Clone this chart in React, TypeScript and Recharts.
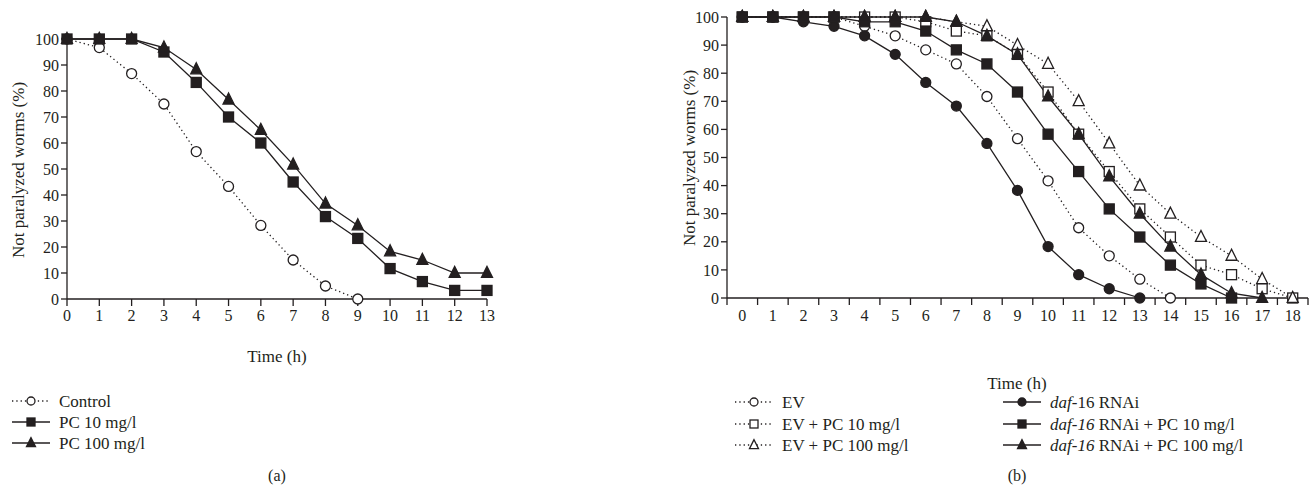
import React from 'react';
import { LineChart, Line, XAxis, YAxis } from 'recharts';

const INK = '#231f20';
const FONT = '"Liberation Serif", "DejaVu Serif", serif';

// (a) wild type
const timeA = [0, 1, 2, 3, 4, 5, 6, 7, 8, 9, 10, 11, 12, 13];
const control = [100, 96.7, 86.7, 75, 56.7, 43.3, 28.3, 15, 5, 0, null, null, null, null];
const pc10 = [100, 100, 100, 95, 83.3, 70, 60, 45, 31.7, 23.3, 11.7, 6.7, 3.3, 3.3];
const pc100 = [100, 100, 100, 96.7, 88.3, 76.7, 65, 51.7, 36.7, 28.3, 18.3, 15, 10, 10];

// (b) daf-16 RNAi
const timeB = [0, 1, 2, 3, 4, 5, 6, 7, 8, 9, 10, 11, 12, 13, 14, 15, 16, 17, 18];
const ev = [100, 100, 100, 100, 96.7, 93.3, 88.3, 83.3, 71.7, 56.7, 41.7, 25, 15, 6.7, 0, null, null, null, null];
const evPc10 = [100, 100, 100, 100, 100, 100, 98.3, 95, 93.3, 86.7, 73.3, 58.3, 45, 31.7, 21.7, 11.7, 8.3, 3.3, 0];
const evPc100 = [100, 100, 100, 100, 100, 100, 100, 98.3, 96.7, 90, 83.3, 70, 55, 40, 30, 21.7, 15, 6.7, 0];
const daf = [100, 100, 98.3, 96.7, 93.3, 86.7, 76.7, 68.3, 55, 38.3, 18.3, 8.3, 3.3, 0, null, null, null, null, null];
const dafPc10 = [100, 100, 100, 100, 98.3, 98.3, 95, 88.3, 83.3, 73.3, 58.3, 45, 31.7, 21.7, 11.7, 5, 0, null, null];
const dafPc100 = [100, 100, 100, 100, 100, 100, 100, 98.3, 93.3, 86.7, 71.7, 58.3, 43.3, 30, 18.3, 8.3, 1.7, 0, null];

const yTicks = [0, 10, 20, 30, 40, 50, 60, 70, 80, 90, 100];

type Shape = 'circle' | 'square' | 'triangle';
interface Series {
  key: string;
  shape: Shape;
  filled: boolean;
  dotted: boolean;
}

const seriesA: Series[] = [
  { key: 'control', shape: 'circle', filled: false, dotted: true },
  { key: 'pc10', shape: 'square', filled: true, dotted: false },
  { key: 'pc100', shape: 'triangle', filled: true, dotted: false },
];
const seriesB: Series[] = [
  { key: 'ev', shape: 'circle', filled: false, dotted: true },
  { key: 'evPc10', shape: 'square', filled: false, dotted: true },
  { key: 'evPc100', shape: 'triangle', filled: false, dotted: true },
  { key: 'daf', shape: 'circle', filled: true, dotted: false },
  { key: 'dafPc10', shape: 'square', filled: true, dotted: false },
  { key: 'dafPc100', shape: 'triangle', filled: true, dotted: false },
];

const dataA = timeA.map((t, i) => ({ t, control: control[i], pc10: pc10[i], pc100: pc100[i] }));
const dataB = timeB.map((t, i) => ({
  t,
  ev: ev[i],
  evPc10: evPc10[i],
  evPc100: evPc100[i],
  daf: daf[i],
  dafPc10: dafPc10[i],
  dafPc100: dafPc100[i],
}));

const Marker = ({ cx, cy, shape, filled, size = 10 }: any) => {
  if (cx == null || cy == null || isNaN(cy)) return null;
  const fill = filled ? INK : '#fff';
  const sw = 1.3;
  if (shape === 'circle') return <circle cx={cx} cy={cy} r={size / 2} fill={fill} stroke={INK} strokeWidth={sw} />;
  if (shape === 'square')
    return <rect x={cx - size / 2} y={cy - size / 2} width={size} height={size} fill={fill} stroke={INK} strokeWidth={sw} />;
  const s = size + 1;
  return (
    <polygon
      points={`${cx},${cy - s * 0.6} ${cx - s / 2},${cy + s * 0.4} ${cx + s / 2},${cy + s * 0.4}`}
      fill={fill}
      stroke={INK}
      strokeWidth={sw}
    />
  );
};

const renderLines = (list: Series[]) =>
  list.map((s) => (
    <Line
      key={s.key}
      dataKey={s.key}
      type="linear"
      stroke={INK}
      strokeWidth={1.3}
      strokeDasharray={s.dotted ? '1.3 3' : undefined}
      isAnimationActive={false}
      dot={(p: any) => <Marker key={`${s.key}-${p.index}`} cx={p.cx} cy={p.cy} shape={s.shape} filled={s.filled} />}
      activeDot={false}
      connectNulls={false}
    />
  ));

const tickStyle = { fontSize: 16, fill: INK, fontFamily: FONT };

// band-style x axis for (b): tick marks between categories, labels on them
const BandTick = ({ x, y, payload }: any) => {
  const v = payload.value;
  if (Number.isInteger(v)) {
    return (
      <text x={x} y={y + 12} dy="0.71em" textAnchor="middle" {...tickStyle}>
        {v}
      </text>
    );
  }
  return <line x1={x} y1={y} x2={x} y2={y + 7} stroke={INK} strokeWidth={1.3} />;
};
const bandTicks = [-0.5, ...timeB.flatMap((t) => [t, t + 0.5])];

const LegendItem = ({ x, y, s, children }: any) => (
  <g>
    <line x1={x} y1={y} x2={x + 38} y2={y} stroke={INK} strokeWidth={1.3} strokeDasharray={s.dotted ? '1.3 3' : undefined} />
    <Marker cx={x + 19} cy={y} shape={s.shape} filled={s.filled} size={8} />
    <text x={x + 47} y={y} dy="0.35em" fontSize={17} fill={INK} fontFamily={FONT}>
      {children}
    </text>
  </g>
);

const labelProps = { fontSize: 17, fill: INK, fontFamily: FONT, textAnchor: 'middle' as const, dy: '0.35em' };

export default function App() {
  return (
    <div style={{ position: 'absolute', left: 0, top: 0, width: 1311, height: 489, background: '#fff', fontFamily: FONT }}>
      <div style={{ position: 'absolute', left: 0, top: 0 }}>
        <LineChart width={500} height={330} data={dataA} margin={{ top: 39, right: 13, left: 27, bottom: 0 }}>
          <XAxis
            dataKey="t"
            type="number"
            domain={[0, 13]}
            ticks={timeA}
            interval={0}
            height={31}
            tickSize={7}
            tickMargin={4}
            stroke={INK}
            strokeWidth={1.3}
            tick={tickStyle}
          />
          <YAxis
            type="number"
            domain={[0, 100]}
            ticks={yTicks}
            interval={0}
            width={40}
            tickSize={6}
            tickMargin={2}
            stroke={INK}
            strokeWidth={1.3}
            tick={tickStyle}
          />
          {renderLines(seriesA)}
        </LineChart>
      </div>
      <div style={{ position: 'absolute', left: 680, top: 0 }}>
        <LineChart width={631} height={330} data={dataB} margin={{ top: 17, right: 3, left: 7, bottom: 0 }}>
          <XAxis
            dataKey="t"
            type="number"
            domain={[-0.5, 18.5]}
            ticks={bandTicks}
            interval={0}
            height={32}
            tickSize={0}
            tickMargin={0}
            tickLine={false}
            stroke={INK}
            strokeWidth={1.3}
            tick={<BandTick />}
          />
          <YAxis
            type="number"
            domain={[0, 100]}
            ticks={yTicks}
            interval={0}
            width={40}
            tickSize={6}
            tickMargin={2}
            stroke={INK}
            strokeWidth={1.3}
            tick={tickStyle}
          />
          {renderLines(seriesB)}
        </LineChart>
      </div>
      <svg width={1311} height={489} style={{ position: 'absolute', left: 0, top: 0, pointerEvents: 'none' }}>
        <text transform="translate(18,170) rotate(-90)" {...labelProps}>
          Not paralyzed worms (%)
        </text>
        <text transform="translate(689,158) rotate(-90)" {...labelProps}>
          Not paralyzed worms (%)
        </text>
        <text x={277} y={356} {...labelProps}>
          Time (h)
        </text>
        <text x={1017} y={383} {...labelProps}>
          Time (h)
        </text>

        <LegendItem x={12} y={401} s={seriesA[0]}>Control</LegendItem>
        <LegendItem x={12} y={422} s={seriesA[1]}>PC 10 mg/l</LegendItem>
        <LegendItem x={12} y={443} s={seriesA[2]}>PC 100 mg/l</LegendItem>

        <LegendItem x={735} y={402} s={seriesB[0]}>EV</LegendItem>
        <LegendItem x={735} y={424} s={seriesB[1]}>EV + PC 10 mg/l</LegendItem>
        <LegendItem x={735} y={445} s={seriesB[2]}>EV + PC 100 mg/l</LegendItem>
        <LegendItem x={1003} y={402} s={seriesB[3]}>
          <tspan fontStyle="italic">daf</tspan>-16 RNAi
        </LegendItem>
        <LegendItem x={1003} y={424} s={seriesB[4]}>
          <tspan fontStyle="italic">daf-16</tspan> RNAi + PC 10 mg/l
        </LegendItem>
        <LegendItem x={1003} y={445} s={seriesB[5]}>
          <tspan fontStyle="italic">daf-16</tspan> RNAi + PC 100 mg/l
        </LegendItem>

        <text x={277} y={475} {...labelProps} fontSize={16}>
          (a)
        </text>
        <text x={1017} y={475} {...labelProps} fontSize={16}>
          (b)
        </text>
      </svg>
    </div>
  );
}
